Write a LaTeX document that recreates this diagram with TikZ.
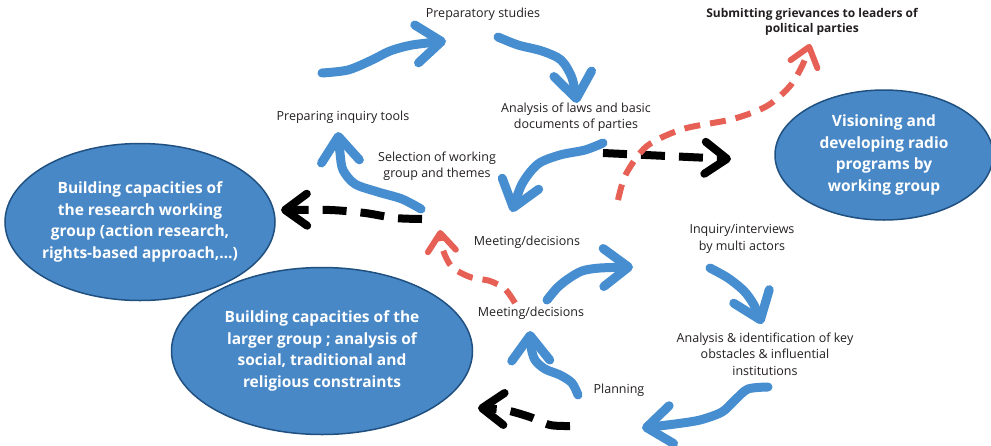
\documentclass[tikz,border=0pt]{standalone}
\usepackage{fontspec}
\setmainfont{Open Sans}
\usetikzlibrary{arrows.meta,shapes.geometric}

\definecolor{capblue}{RGB}{72,136,198}
\definecolor{capedge}{RGB}{32,80,128}
\definecolor{flowblue}{RGB}{70,142,208}
\definecolor{linkred}{RGB}{230,96,86}
\definecolor{labelgray}{RGB}{35,31,32}

\begin{document}
\begin{tikzpicture}[x=1pt,y=-1pt,
  capacity/.style={ellipse,draw=capedge,line width=1.5pt,fill=capblue,text=white,
    font=\bfseries\fontsize{15.5}{21.5}\selectfont,align=center,inner sep=0pt,inner xsep=-20pt},
  activity/.style={font=\fontsize{12.5}{16.5}\selectfont,text=labelgray,align=center,inner sep=0pt},
  flow/.style={draw=flowblue,line width=9pt,line cap=round,line join=round,
    -{Straight Barb[length=25pt,width=38pt,round]}},
  feedback/.style={draw=black,line width=8pt,dash pattern=on 24pt off 14pt,
    -{Straight Barb[length=22pt,width=32pt,round]}},
  advocacy/.style={draw=linkred,line width=6pt,dash pattern=on 16pt off 10pt,
    -{Straight Barb[length=18pt,width=28pt,round]}}]
\useasboundingbox (0,0) rectangle (991,445);

% capacity building and radio work
\node[capacity,minimum width=270pt,minimum height=157pt] (research) at (140,222)
  {Building capacities of\\the research working\\group (action research,\\rights-based approach,…)};
\node[capacity,minimum width=301pt,minimum height=167pt] (larger) at (322,351)
  {Building capacities of the\\larger group ; analysis of\\social, traditional and\\religious constraints};
\node[capacity,minimum width=218pt,minimum height=130pt] (visioning) at (884,155)
  {Visioning and\\developing radio\\programs by\\working group};

% steps of the cycle
\node[activity] (prep) at (483,14) {Preparatory studies};
\node[activity,font=\bfseries\fontsize{12}{15}\selectfont] (grievance) at (812,22)
  {Submitting grievances to leaders of\\political parties};
\node[activity] (tools) at (343,117) {Preparing inquiry tools};
\node[activity] (laws) at (576,117) {Analysis of laws and basic\\documents of parties};
\node[activity] (selection) at (437,166) {Selection of working\\group and themes};
\node[activity] (meetup) at (527,242) {Meeting/decisions};
\node[activity] (meetlow) at (531,313) {Meeting/decisions};
\node[activity] (inquiry) at (742,239) {Inquiry/interviews\\by multi actors};
\node[activity] (obstacles) at (765,354) {Analysis \& identification of key\\obstacles \& influential\\institutions};
\node[activity] (planning) at (619,390) {Planning};

% arrow ends
\coordinate (b1s) at (322,73);  \coordinate (b1e) at (446,41);
\coordinate (b2s) at (498,37);  \coordinate (b2e) at (577,103);
\coordinate (b3s) at (603,143); \coordinate (b3e) at (512,212);
\coordinate (b4s) at (421,209); \coordinate (b4e) at (338,132);
\coordinate (b5s) at (547,300); \coordinate (b5e) at (633,267);
\coordinate (b6s) at (710,268); \coordinate (b6e) at (762,324);
\coordinate (b7s) at (768,387); \coordinate (b7e) at (642,428);
\coordinate (b8s) at (578,395); \coordinate (b8e) at (530,331);
\coordinate (k1s) at (422,219); \coordinate (k1e) at (281,210);
\coordinate (k2s) at (603,153); \coordinate (k2e) at (731,159);
\coordinate (k3s) at (570,426); \coordinate (k3e) at (478,408);
\coordinate (r1s) at (618,200); \coordinate (r1e) at (810,44);
\coordinate (r2s) at (515,303); \coordinate (r2e) at (440,230);

% blue cycle
\draw[flow] plot[smooth] coordinates {(b1s) (348,70) (372,60) (390,51) (412,45) (b1e)};
\draw[flow] plot[smooth] coordinates {(b2s) (518,45) (542,51) (561,60) (572,78) (b2e)};
\draw[flow] plot[smooth] coordinates {(b3s) (585,150) (560,155) (538,164) (522,184) (b3e)};
\draw[flow] plot[smooth] coordinates {(b4s) (402,199) (378,192) (355,184) (343,170) (340,153) (b4e)};
\draw[flow] plot[smooth] coordinates {(b5s) (557,288) (568,279) (582,271) (600,268) (b5e)};
\draw[flow] plot[smooth] coordinates {(b6s) (728,278) (744,291) (754,305) (b6e)};
\draw[flow] plot[smooth] coordinates {(b7s) (748,389) (735,400) (722,412) (700,420) (675,424) (b7e)};
\draw[flow] plot[smooth] coordinates {(b8s) (572,383) (560,375) (545,369) (535,360) (531,347) (b8e)};

% black dashed arrows
\draw[feedback] plot[smooth] coordinates {(k1s) (395,218) (365,213) (330,210) (k1e)};
\draw[feedback] (k2s) -- (k2e);
\draw[feedback] plot[smooth] coordinates {(k3s) (550,425) (530,417) (505,410) (k3e)};

% red dashed arrows
\draw[advocacy] plot[smooth] coordinates {(r1s) (626,174) (647,146) (683,129) (733,119) (767,106) (790,86) (803,64) (r1e)};
\draw[advocacy] plot[smooth] coordinates {(r2s) (505,289) (490,281) (470,277) (452,267) (443,250) (r2e)};
\end{tikzpicture}
\end{document}
